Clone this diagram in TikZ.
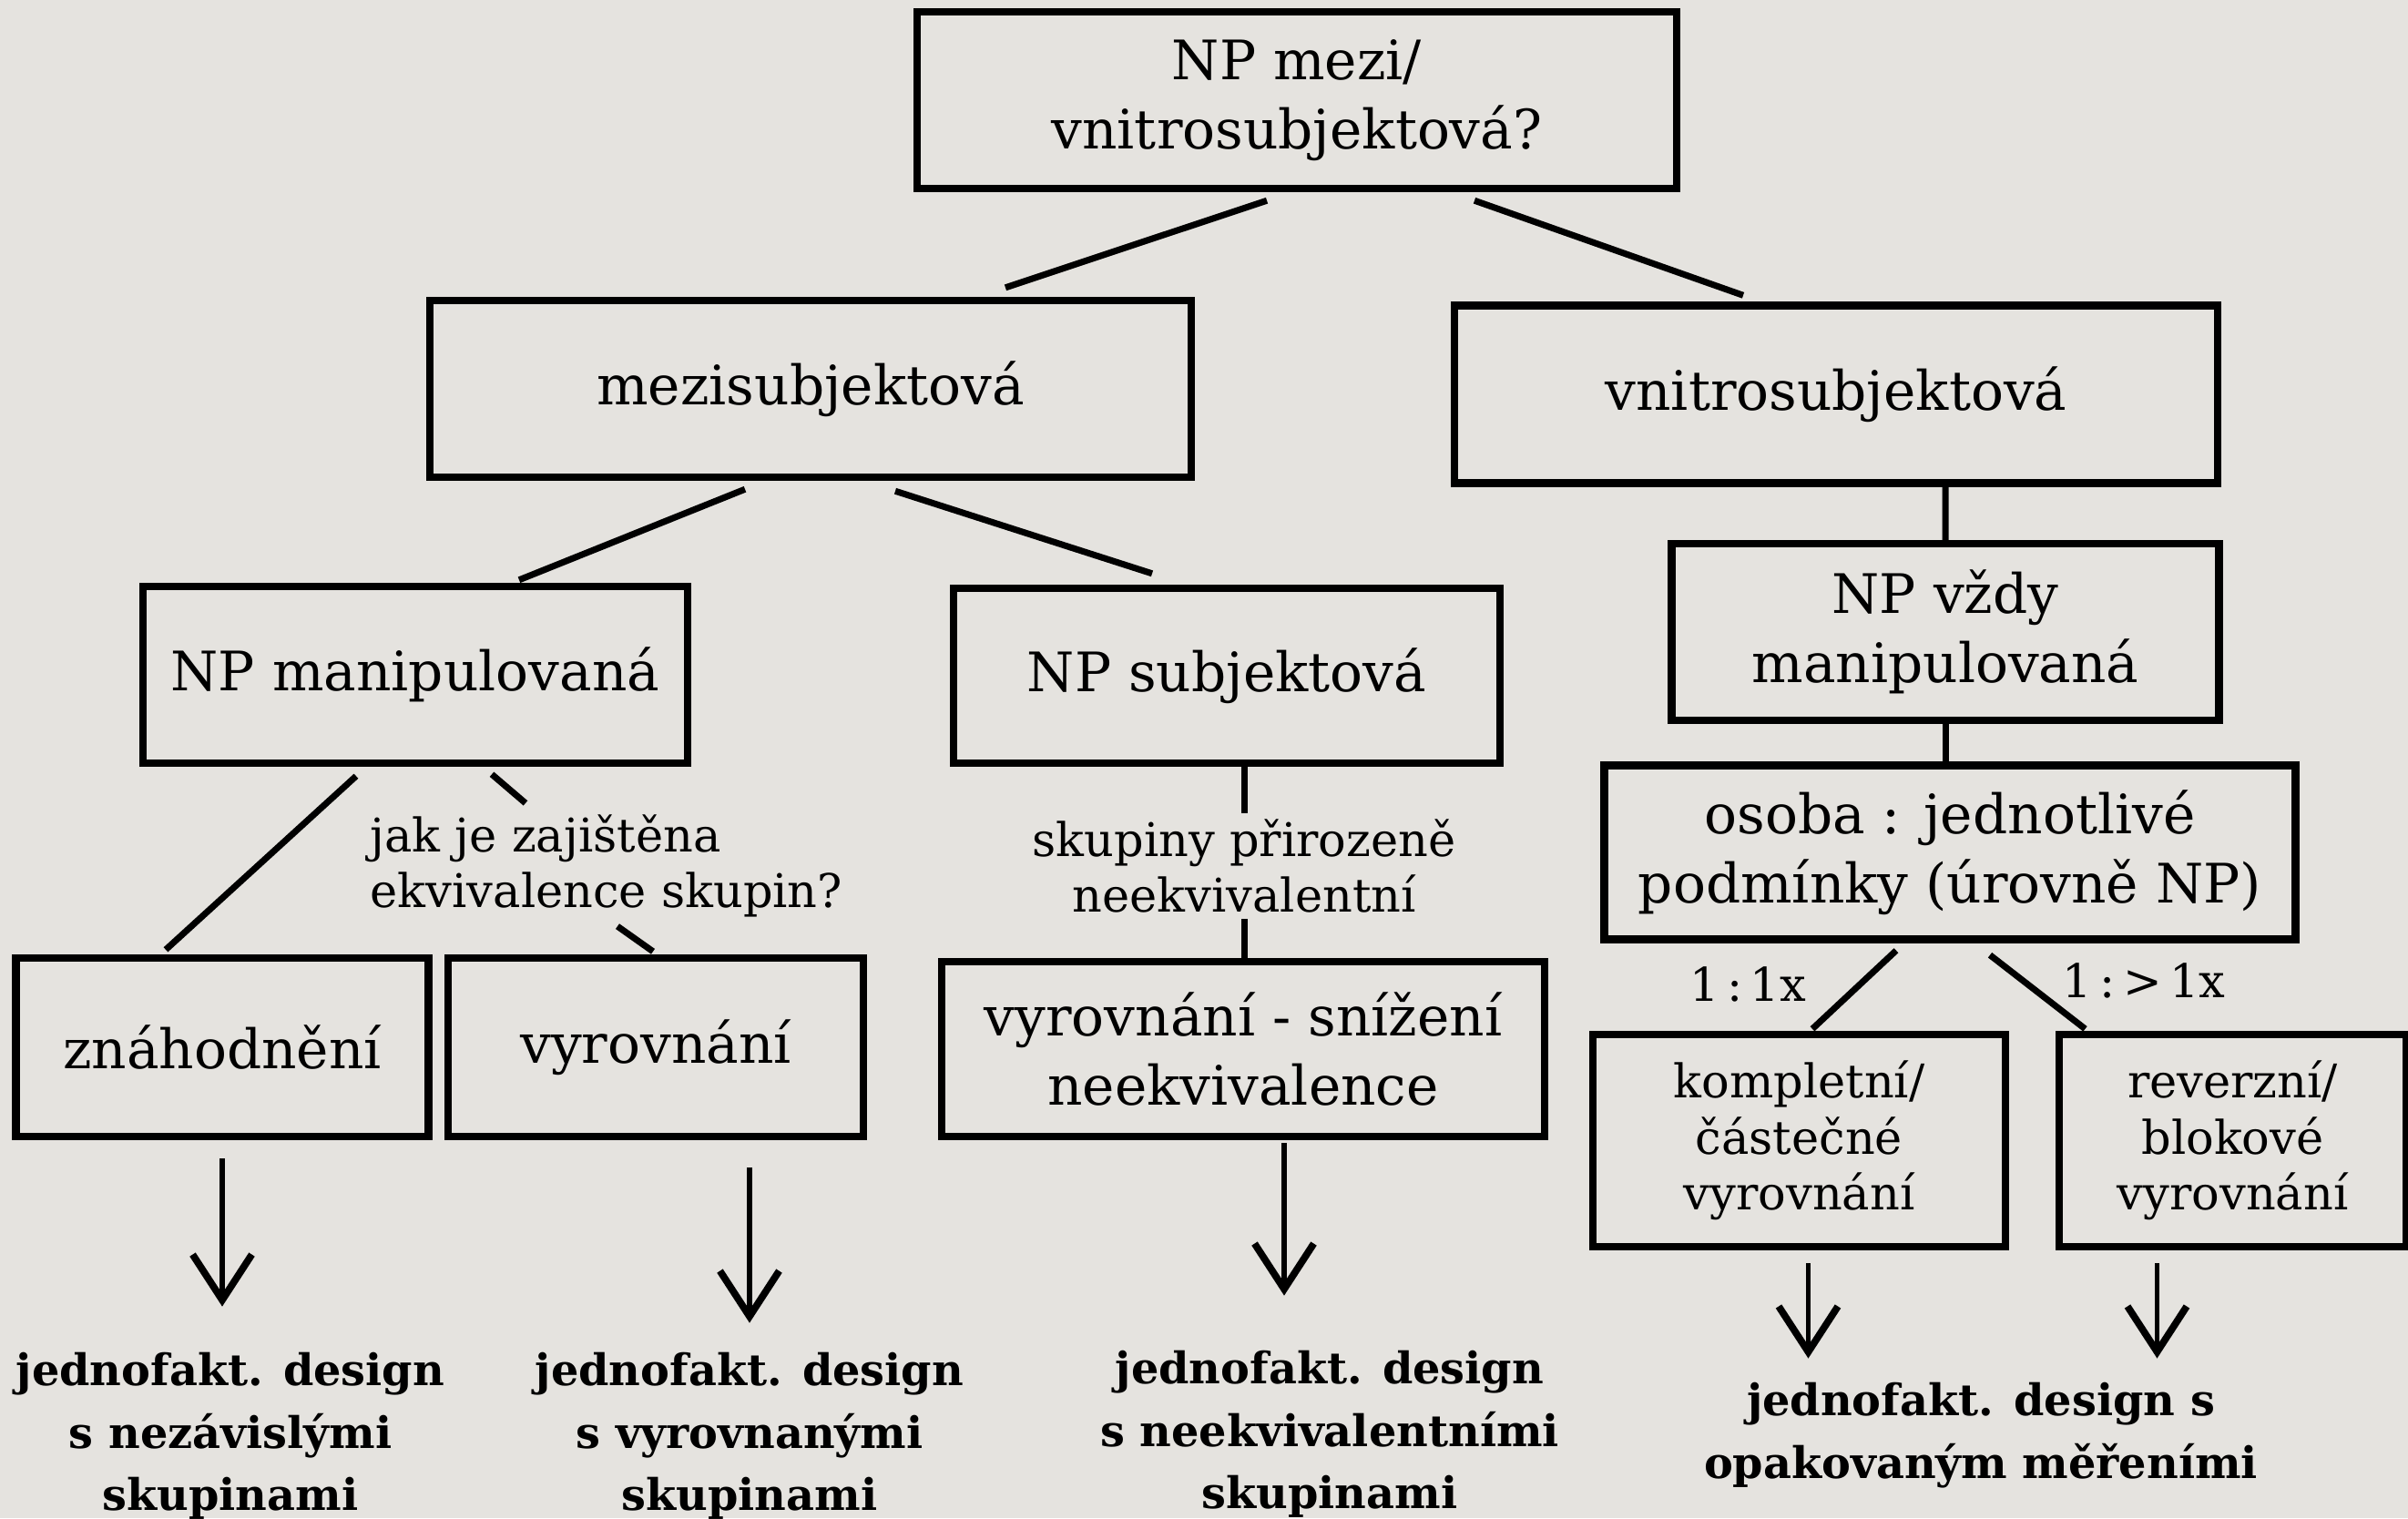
\documentclass[tikz,border=0pt]{standalone}
\usepackage{fontspec}
\setmainfont{DejaVu Serif}
\usepackage{tikz}
\usetikzlibrary{arrows.meta}

\definecolor{paper}{RGB}{229,227,223}
\newcommand{\boxfont}{\fontsize{17}{21.5}\selectfont}
\newcommand{\notefont}{\fontsize{14.5}{17.5}\selectfont}
\newcommand{\designfont}{\fontsize{13.6}{19.5}\selectfont\bfseries}

\tikzset{
	box/.style={draw, line width=2.4pt, align=center, inner sep=0pt, font=\boxfont},
	smallbox/.style={box, font=\notefont},
	note/.style={align=center, inner sep=0pt, font=\notefont},
	design/.style={align=center, inner sep=0pt, font=\designfont},
	link/.style={line width=2pt},
	down/.style={line width=1.5pt, -{Straight Barb[length=5mm,width=6.5mm,line width=2.2pt]}}
}

\begin{document}
\begin{tikzpicture}
	%Paper
	\useasboundingbox (0,0) rectangle (26.44,-16.67);
	\fill [paper] (0,0) rectangle (26.44,-16.67);
	%Question
	\node [box, minimum width=8.34cm, minimum height=1.94cm] (root) at (14.24,-1.10) {NP mezi/\\vnitrosubjektová?};
	%Two kinds
	\node [box, minimum width=8.36cm, minimum height=1.94cm] (mezi) at (8.90,-4.27) {mezisubjektová};
	\node [box, minimum width=8.38cm, minimum height=1.95cm] (vnitro) at (20.16,-4.33) {vnitrosubjektová};
	%Between subjects
	\node [box, minimum width=5.98cm, minimum height=1.94cm] (manip) at (4.56,-7.41) {NP manipulovaná};
	\node [box, minimum width=6.00cm, minimum height=1.92cm] (subj) at (13.47,-7.42) {NP subjektová};
	\node [note, anchor=west, align=left] (jak) at (4.06,-9.51) {jak je zajištěna\\ekvivalence skupin?};
	\node [note] (skup) at (13.66,-9.51) {skupiny přirozeně\\neekvivalentní};
	\node [box, minimum width=4.53cm, minimum height=1.96cm] (nahod) at (2.44,-11.50) {znáhodnění};
	\node [box, minimum width=4.56cm, minimum height=1.96cm] (vyrov) at (7.20,-11.50) {vyrovnání};
	\node [box, minimum width=6.62cm, minimum height=1.92cm] (sniz) at (13.65,-11.52) {vyrovnání - snížení\\neekvivalence};
	%Within subjects
	\node [box, minimum width=6.01cm, minimum height=1.94cm] (vzdy) at (21.36,-6.94) {NP vždy\\manipulovaná};
	\node [box, minimum width=7.59cm, minimum height=1.91cm] (osoba) at (21.41,-9.36) {osoba : jednotlivé\\podmínky (úrovně NP)};
	\node [note] (jedna) at (19.19,-10.81) {1\,:\,1x};
	\node [note] (vice) at (23.54,-10.77) {1\,:\,>\,1x};
	\node [smallbox, minimum width=4.53cm, minimum height=2.33cm] (kompl) at (19.755,-12.525) {kompletní/\\částečné\\vyrovnání};
	\node [smallbox, minimum width=3.81cm, minimum height=2.33cm] (revers) at (24.515,-12.525) {reverzní/\\blokové\\vyrovnání};
	%Designs
	\node [design] (des1) at (2.53,-15.77) {jednofakt. design\\s nezávislými\\skupinami};
	\node [design] (des2) at (8.23,-15.77) {jednofakt. design\\s vyrovnanými\\skupinami};
	\node [design] (des3) at (14.60,-15.75) {jednofakt. design\\s neekvivalentními\\skupinami};
	\node [design] (des4) at (21.75,-15.76) {jednofakt. design s\\opakovaným měřeními};
	%Branches
	\draw [link] ([xshift=-3.3mm,yshift=-0.9mm]root.south) to ([xshift=21.4mm,yshift=1mm]mezi.north);
	\draw [link] ([xshift=19.5mm,yshift=-0.9mm]root.south) to ([xshift=-10.2mm,yshift=0.7mm]vnitro.north);
	\draw [link] ([xshift=-7.2mm,yshift=-0.9mm]mezi.south) to ([xshift=11.4mm,yshift=0.3mm]manip.north);
	\draw [link] ([xshift=9.3mm,yshift=-1.1mm]mezi.south) to ([xshift=-8.2mm,yshift=1.2mm]subj.north);
	\draw [link] ([xshift=-6.5mm,yshift=-1mm]manip.south) to ([xshift=-6.2mm,yshift=0.5mm]nahod.north);
	\draw [link] ([xshift=8.4mm,yshift=-0.8mm]manip.south) to ([xshift=17.1mm,yshift=1.2mm]jak.north west);
	\draw [link] ([xshift=27.2mm,yshift=-0.9mm]jak.south west) to ([xshift=-0.3mm,yshift=0.3mm]vyrov.north);
	\draw [link] (skup.north |- subj.south) to ([yshift=0.6mm]skup.north);
	\draw [link] ([yshift=-0.6mm]skup.south) to (skup.south |- sniz.north);
	\draw [link] ([xshift=12mm]vnitro.south) to (vzdy.north);
	\draw [link] (vzdy.south) to (vzdy.south |- osoba.north);
	\draw [link] ([xshift=-5.9mm,yshift=-0.8mm]osoba.south) to ([xshift=1.45mm,yshift=0.2mm]kompl.north);
	\draw [link] ([xshift=4.4mm,yshift=-1.3mm]osoba.south) to ([xshift=-16.2mm,yshift=0.2mm]revers.north);
	%Arrows
	\draw [down, shorten <=2mm, shorten >=5mm] (nahod.south) to (nahod.south |- des1.north);
	\draw [down, shorten <=3mm, shorten >=3.2mm] (des2.north |- vyrov.south) to (des2.north);
	\draw [down, shorten <=0.3mm, shorten >=6mm] ([xshift=4.5mm]sniz.south) to ([xshift=4.5mm]sniz.south |- des3.north);
	\draw [down, shorten <=1.4mm, shorten >=2.6mm] ([xshift=1mm]kompl.south) to ([xshift=1mm]kompl.south |- des4.north);
	\draw [down, shorten <=1.4mm, shorten >=2.6mm] ([xshift=-8.3mm]revers.south) to ([xshift=-8.3mm]revers.south |- des4.north);
\end{tikzpicture}
\end{document}
